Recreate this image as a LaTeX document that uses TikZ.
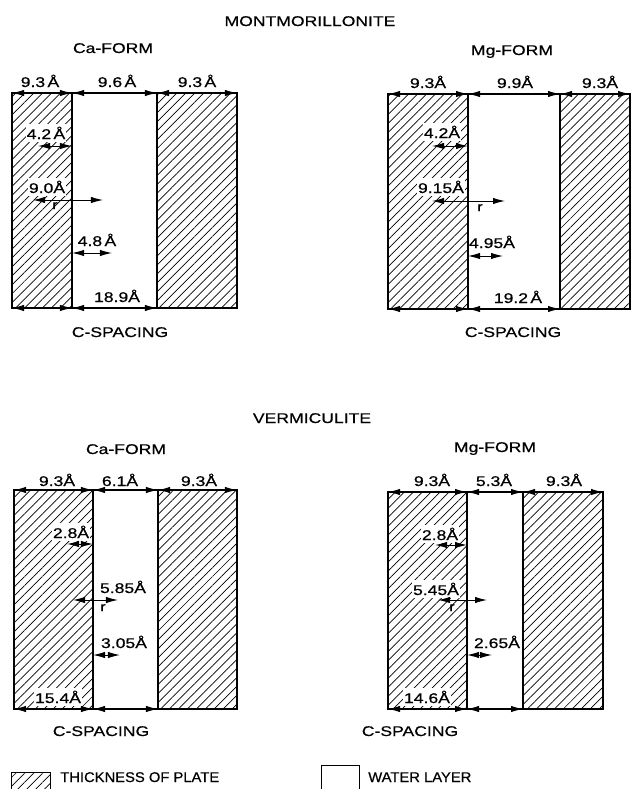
\documentclass[tikz,border=0pt]{standalone}
\usepackage{fontspec}
\newfontfamily\lettering[FakeStretch=1.25,FakeBold=0.6]{Liberation Sans}
\newfontfamily\legendlettering[FakeStretch=1.05,FakeBold=0.6]{Liberation Sans}
\usepackage{tikz}
\usetikzlibrary{
  arrows.meta,%
  patterns.meta,%
  calc
}
\tikzset{>={Latex[length=3mm,width=1.6mm]}}
\tikzset{
  plate/.style={draw, line width=1.2pt,
    pattern={Lines[angle=45,distance=4.5pt,line width=0.5pt]}},
  water/.style={draw, line width=1.2pt, fill=white},
  dim/.style={<->, line width=0.7pt},
  lab/.style={anchor=base, inner sep=0pt, font=\lettering\fontsize{10}{12}\selectfont},
  inlab/.style={lab, fill=white, inner xsep=0.5pt, inner ysep=2pt},
  rlab/.style={anchor=base, inner sep=0pt, font=\lettering\fontsize{9}{11}\selectfont},
  leg/.style={anchor=base west, inner sep=0pt, font=\legendlettering\fontsize{10}{12}\selectfont}
}

\begin{document}
\begin{tikzpicture}[x=0.025cm, y=-0.025cm]
      \useasboundingbox (0, 0) rectangle (631, 789);%
      % titles
      \node[lab] (montm) at (310, 26) {MONTMORILLONITE};%
      \node[lab] (vermic) at (312, 423) {VERMICULITE};%

      % montmorillonite, Ca-form
      \coordinate (mca-0t) at (12, 93);%
      \coordinate (mca-1t) at (72, 93);%
      \coordinate (mca-2t) at (157, 93);%
      \coordinate (mca-3t) at (237, 93);%
      \coordinate (mca-0b) at (12, 308);%
      \coordinate (mca-1b) at (72, 308);%
      \coordinate (mca-2b) at (157, 308);%
      \coordinate (mca-3b) at (237, 308);%
      \draw[plate] (mca-0t) rectangle (mca-1b);%
      \draw[water] (mca-1t) rectangle (mca-2b);%
      \draw[plate] (mca-2t) rectangle (mca-3b);%
      \draw[dim] (mca-0t) -- (mca-1t);%
      \draw[dim] (mca-1t) -- (mca-2t);%
      \draw[dim] (mca-2t) -- (mca-3t);%
      \draw[dim] (mca-0b) -- (mca-1b);%
      \draw[dim] (mca-1b) -- (mca-2b);%
      \node[lab] (mca-form) at (113, 53) {Ca-FORM};%
      \node[lab] (mca-t1) at (40, 87) {9.3\,Å};%
      \node[lab] (mca-t2) at (117, 87) {9.6\,Å};%
      \node[lab] (mca-t3) at (197, 87) {9.3\,Å};%
      \node[inlab] (mca-d1) at (46, 139) {4.2\,Å};%
      \coordinate (mca-a1) at (38, 146);%
      \draw[dim] (mca-a1) -- (mca-a1 -| mca-1t);%
      \node[inlab] (mca-d2) at (47, 193) {9.0Å};%
      \coordinate (mca-a2) at (33, 200);%
      \coordinate (mca-a2e) at (103, 200);%
      \draw[dim] (mca-a2) -- (mca-a2e);%
      \node[rlab] (mca-r) at (55, 209) {r};%
      \node[lab] (mca-d3) at (97, 246) {4.8\,Å};%
      \coordinate (mca-a3) at (112, 253);%
      \draw[dim] (mca-a3 -| mca-1t) -- (mca-a3);%
      \node[lab] (mca-c) at (117, 302) {18.9Å};%
      \node[lab] (mca-sp) at (120, 337) {C-SPACING};%

      % montmorillonite, Mg-form
      \coordinate (mmg-0t) at (388, 94);%
      \coordinate (mmg-1t) at (468, 94);%
      \coordinate (mmg-2t) at (560, 94);%
      \coordinate (mmg-3t) at (630, 94);%
      \coordinate (mmg-0b) at (388, 309);%
      \coordinate (mmg-1b) at (468, 309);%
      \coordinate (mmg-2b) at (560, 309);%
      \coordinate (mmg-3b) at (630, 309);%
      \draw[plate] (mmg-0t) rectangle (mmg-1b);%
      \draw[water] (mmg-1t) rectangle (mmg-2b);%
      \draw[plate] (mmg-2t) rectangle (mmg-3b);%
      \draw[dim] (mmg-0t) -- (mmg-1t);%
      \draw[dim] (mmg-1t) -- (mmg-2t);%
      \draw[dim] (mmg-2t) -- (mmg-3t);%
      \draw[dim] (mmg-0b) -- (mmg-1b);%
      \draw[dim] (mmg-1b) -- (mmg-2b);%
      \node[lab] (mmg-form) at (512, 55) {Mg-FORM};%
      \node[lab] (mmg-t1) at (428, 88) {9.3Å};%
      \node[lab] (mmg-t2) at (515, 88) {9.9Å};%
      \node[lab] (mmg-t3) at (600, 88) {9.3Å};%
      \node[inlab] (mmg-d1) at (442, 138) {4.2Å};%
      \coordinate (mmg-a1) at (432, 146);%
      \draw[dim] (mmg-a1) -- (mmg-a1 -| mmg-1t);%
      \node[inlab] (mmg-d2) at (441, 193) {9.15Å};%
      \coordinate (mmg-a2) at (432, 201);%
      \coordinate (mmg-a2e) at (505, 201);%
      \draw[dim] (mmg-a2) -- (mmg-a2e);%
      \node[rlab] (mmg-r) at (480, 211) {r};%
      \node[lab] (mmg-d3) at (492, 248) {4.95Å};%
      \coordinate (mmg-a3) at (503, 256);%
      \draw[dim] (mmg-a3 -| mmg-1t) -- (mmg-a3);%
      \node[lab] (mmg-c) at (518, 303) {19.2\,Å};%
      \node[lab] (mmg-sp) at (513, 337) {C-SPACING};%

      % vermiculite, Ca-form
      \coordinate (vca-0t) at (14, 490);%
      \coordinate (vca-1t) at (93, 490);%
      \coordinate (vca-2t) at (158, 490);%
      \coordinate (vca-3t) at (237, 490);%
      \coordinate (vca-0b) at (14, 709);%
      \coordinate (vca-1b) at (93, 709);%
      \coordinate (vca-2b) at (158, 709);%
      \coordinate (vca-3b) at (237, 709);%
      \draw[plate] (vca-0t) rectangle (vca-1b);%
      \draw[water] (vca-1t) rectangle (vca-2b);%
      \draw[plate] (vca-2t) rectangle (vca-3b);%
      \draw[dim] (vca-0t) -- (vca-1t);%
      \draw[dim] (vca-1t) -- (vca-2t);%
      \draw[dim] (vca-2t) -- (vca-3t);%
      \draw[dim] (vca-0b) -- (vca-1b);%
      \draw[dim] (vca-1b) -- (vca-2b);%
      \node[lab] (vca-form) at (126, 454) {Ca-FORM};%
      \node[lab] (vca-t1) at (57, 486) {9.3Å};%
      \node[lab] (vca-t2) at (120, 486) {6.1Å};%
      \node[lab] (vca-t3) at (199, 486) {9.3Å};%
      \node[inlab] (vca-d1) at (71, 538) {2.8Å};%
      \coordinate (vca-a1) at (67, 544);%
      \draw[dim] (vca-a1) -- (vca-a1 -| vca-1t);%
      \node[lab] (vca-d2) at (123, 593) {5.85Å};%
      \coordinate (vca-a2) at (73, 600);%
      \coordinate (vca-a2e) at (118, 600);%
      \draw[dim] (vca-a2) -- (vca-a2e);%
      \node[rlab] (vca-r) at (103, 611) {r};%
      \node[lab] (vca-d3) at (124, 648) {3.05Å};%
      \coordinate (vca-a3) at (120, 655);%
      \draw[dim] (vca-a3 -| vca-1t) -- (vca-a3);%
      \node[inlab] (vca-c) at (58, 703) {15.4Å};%
      \node[lab] (vca-sp) at (101, 736) {C-SPACING};%

      % vermiculite, Mg-form
      \coordinate (vmg-0t) at (388, 492);%
      \coordinate (vmg-1t) at (467, 492);%
      \coordinate (vmg-2t) at (523, 492);%
      \coordinate (vmg-3t) at (603, 492);%
      \coordinate (vmg-0b) at (388, 709);%
      \coordinate (vmg-1b) at (467, 709);%
      \coordinate (vmg-2b) at (523, 709);%
      \coordinate (vmg-3b) at (603, 709);%
      \draw[plate] (vmg-0t) rectangle (vmg-1b);%
      \draw[water] (vmg-1t) rectangle (vmg-2b);%
      \draw[plate] (vmg-2t) rectangle (vmg-3b);%
      \draw[dim] (vmg-0t) -- (vmg-1t);%
      \draw[dim] (vmg-1t) -- (vmg-2t);%
      \draw[dim] (vmg-2t) -- (vmg-3t);%
      \draw[dim] (vmg-0b) -- (vmg-1b);%
      \draw[dim] (vmg-1b) -- (vmg-2b);%
      \node[lab] (vmg-form) at (495, 452) {Mg-FORM};%
      \node[lab] (vmg-t1) at (432, 486) {9.3Å};%
      \node[lab] (vmg-t2) at (494, 486) {5.3Å};%
      \node[lab] (vmg-t3) at (564, 486) {9.3Å};%
      \node[inlab] (vmg-d1) at (440, 540) {2.8Å};%
      \coordinate (vmg-a1) at (435, 545);%
      \draw[dim] (vmg-a1) -- (vmg-a1 -| vmg-1t);%
      \node[inlab] (vmg-d2) at (436, 595) {5.45Å};%
      \coordinate (vmg-a2) at (438, 600);%
      \coordinate (vmg-a2e) at (487, 600);%
      \draw[dim] (vmg-a2) -- (vmg-a2e);%
      \node[rlab] (vmg-r) at (452, 611) {r};%
      \node[lab] (vmg-d3) at (497, 648) {2.65Å};%
      \coordinate (vmg-a3) at (492, 655);%
      \draw[dim] (vmg-a3 -| vmg-1t) -- (vmg-a3);%
      \node[inlab] (vmg-c) at (427, 703) {14.6Å};%
      \node[lab] (vmg-sp) at (410, 736) {C-SPACING};%

      % legend
      \draw[plate, line width=0.7pt] (11, 772) rectangle (50, 795);%
      \node[leg] (leg-plate) at (60, 782) {THICKNESS OF PLATE};%
      \draw[water, line width=0.7pt] (321, 765) rectangle (359, 795);%
      \node[leg] (leg-water) at (368, 782) {WATER LAYER};%
    \end{tikzpicture}
\end{document}
